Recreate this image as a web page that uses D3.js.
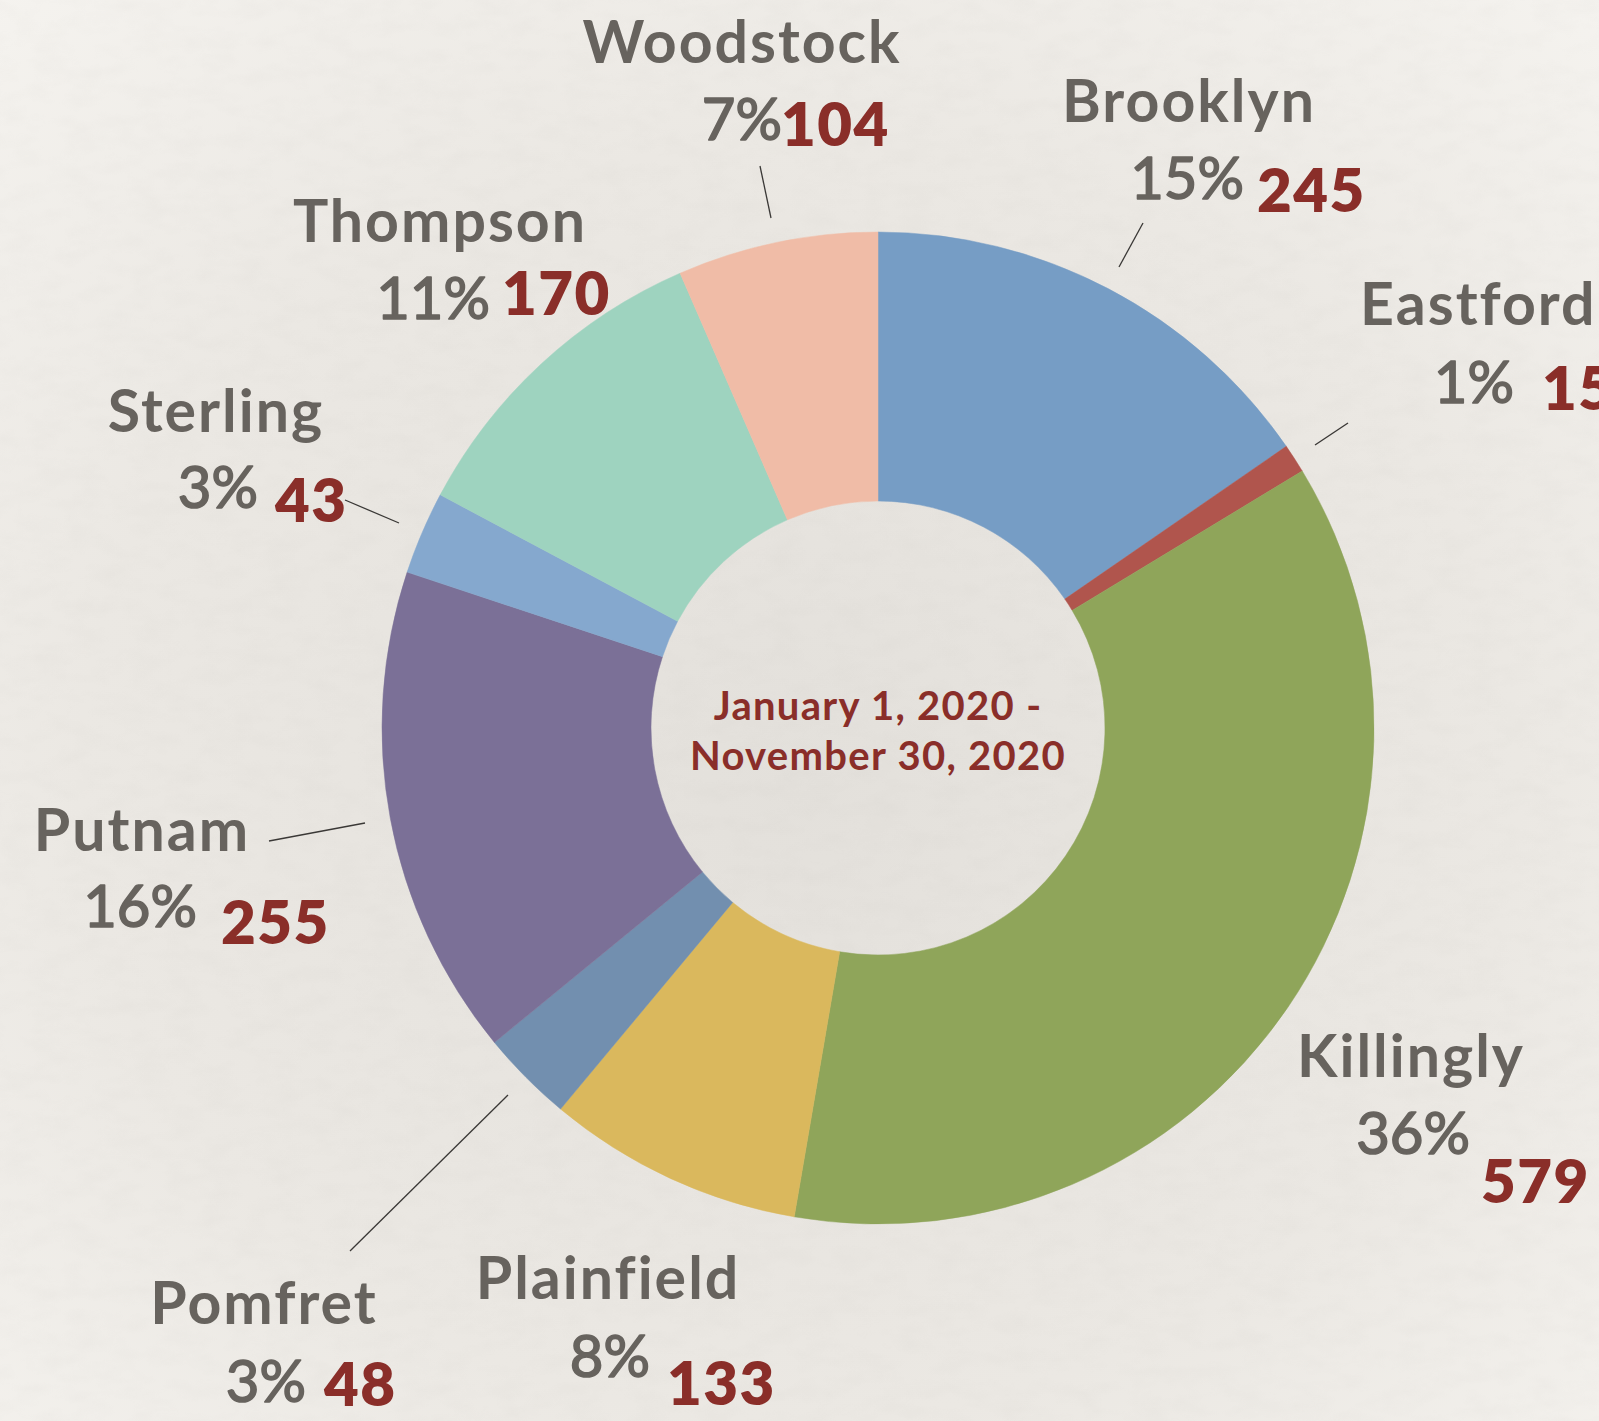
<!DOCTYPE html>
<html>
<head>
<meta charset="utf-8">
<script src="https://cdn.jsdelivr.net/npm/d3@7"></script>
<style>
  html, body { margin: 0; padding: 0; background: #eeebe6; overflow: hidden; }
  svg { display: block; }
</style>
</head>
<body>
<svg id="chart" width="1599" height="1421"></svg>
<script>
// ---- data ----
const towns = ["Brooklyn", "Eastford", "Killingly", "Plainfield", "Pomfret", "Putnam", "Sterling", "Thompson", "Woodstock"];
const counts = [245, 15, 579, 133, 48, 255, 43, 170, 104];
const sliceColors = ["#769dc5", "#b0554d", "#8fa55a", "#dab85d", "#728faf", "#7b7097", "#85a8ce", "#9ed3bf", "#f0bca7"];
const centerLines = ["January 1, 2020 -", "November 30, 2020"];

// ---- layout (annotation placement, not data) ----
// name: [x, baseline, anchor], pct: [right edge, baseline], num: [left edge, baseline]
const labelLayout = {
  Brooklyn:   { name: [1189, 122], pct: [1244, 199], num: [1257, 212], lead: [1143, 223, 1119, 267] },
  Eastford:   { name: [1360, 325, "start"], pct: [1514, 403], num: [1542, 410], lead: [1348, 423, 1315, 445] },
  Killingly:  { name: [1411, 1077], pct: [1470, 1154], num: [1481, 1203] },
  Plainfield: { name: [608, 1299], pct: [650, 1377], num: [667, 1405] },
  Pomfret:    { name: [264, 1324], pct: [306, 1402], num: [324, 1406], lead: [508, 1095, 350, 1251] },
  Putnam:     { name: [142, 851], pct: [197, 927], num: [221, 944], lead: [269, 841, 365, 823] },
  Sterling:   { name: [216, 432], pct: [258, 508], num: [275, 522], lead: [345, 500, 399, 523] },
  Thompson:   { name: [440, 242], pct: [490, 319], num: [502, 315] },
  Woodstock:  { name: [742, 63], pct: [782, 140], num: [781, 146], lead: [760, 166, 771, 218] }
};

const W = 1599, H = 1421;
const cx = 878, cy = 728, outerR = 496, innerR = 227;
const FONT = "Lato, 'Open Sans', sans-serif";
const gray = "#67635e", red = "#8a2e29";

const svg = d3.select("#chart");
const defs = svg.append("defs");

// paper background
const grad = defs.append("radialGradient").attr("id", "bg")
  .attr("cx", "0.5").attr("cy", "0.55").attr("r", "0.75");
grad.append("stop").attr("offset", "0").attr("stop-color", "#e3e0db");
grad.append("stop").attr("offset", "0.6").attr("stop-color", "#ebe8e3");
grad.append("stop").attr("offset", "1").attr("stop-color", "#f5f3ef");
svg.append("rect").attr("width", W).attr("height", H).attr("fill", "url(#bg)");

const noise = defs.append("filter").attr("id", "paper").attr("x", 0).attr("y", 0).attr("width", "100%").attr("height", "100%");
noise.append("feTurbulence").attr("type", "fractalNoise").attr("baseFrequency", "0.03 0.06").attr("numOctaves", 3).attr("seed", 7).attr("result", "n");
noise.append("feColorMatrix").attr("type", "matrix")
  .attr("values", "0 0 0 0 0.5  0 0 0 0 0.48  0 0 0 0 0.45  0 0 0 -1 0.6");
svg.append("rect").attr("width", W).attr("height", H).attr("filter", "url(#paper)").attr("opacity", 0.12);

// donut
const total = d3.sum(counts);
const data = towns.map((t, i) => ({ town: t, count: counts[i], color: sliceColors[i] }));
const pie = d3.pie().sort(null).value(d => d.count).startAngle(0).endAngle(2 * Math.PI);
const arc = d3.arc().innerRadius(innerR).outerRadius(outerR);

const g = svg.append("g").attr("transform", `translate(${cx},${cy})`);
g.selectAll("path").data(pie(data)).join("path")
  .attr("d", arc)
  .attr("fill", d => d.data.color)
  .attr("stroke", d => d.data.color)
  .attr("stroke-width", 0.5);

// center text
const ct = svg.append("text")
  .attr("text-anchor", "middle")
  .attr("font-family", FONT).attr("font-weight", 700).attr("font-size", 40)
  .attr("letter-spacing", 1.3)
  .attr("fill", red);
centerLines.forEach((line, i) => {
  ct.append("tspan").attr("x", cx).attr("y", 720 + i * 50).text(line);
});

// labels
const labels = svg.append("g");
data.forEach(d => {
  const L = labelLayout[d.town];
  const pct = Math.round(d.count / total * 100) + "%";
  labels.append("text")
    .attr("x", L.name[0]).attr("y", L.name[1])
    .attr("text-anchor", L.name[2] || "middle")
    .attr("font-family", FONT).attr("font-weight", 700).attr("font-size", 59)
    .attr("letter-spacing", 2)
    .attr("fill", gray).text(d.town);
  labels.append("text")
    .attr("x", L.pct[0]).attr("y", L.pct[1])
    .attr("text-anchor", "end")
    .attr("font-family", FONT).attr("font-weight", 400).attr("font-size", 58)
    .attr("stroke", gray).attr("stroke-width", 1.6).attr("stroke-linejoin", "round")
    .attr("fill", gray).text(pct);
  labels.append("text")
    .attr("x", L.num[0]).attr("y", L.num[1])
    .attr("font-family", FONT).attr("font-weight", 800).attr("font-size", 60)
    .attr("letter-spacing", 1.5)
    .attr("fill", red).text(d.count);
  if (L.lead) {
    labels.append("line")
      .attr("x1", L.lead[0]).attr("y1", L.lead[1])
      .attr("x2", L.lead[2]).attr("y2", L.lead[3])
      .attr("stroke", "#3a3836").attr("stroke-width", 1.3);
  }
});
</script>
</body>
</html>
